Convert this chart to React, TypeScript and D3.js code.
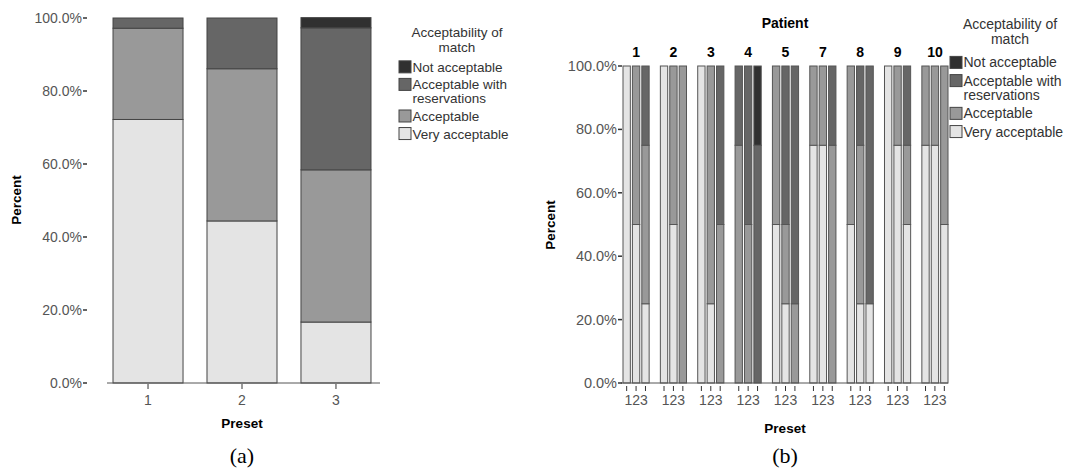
import React from "react";
import * as d3 from "d3";

// categories
const levels = ["Very acceptable", "Acceptable", "Acceptable with reservations", "Not acceptable"];
const levelColors = ["#e4e4e4", "#999999", "#666666", "#303030"];
const legendLabels = [["Not acceptable"], ["Acceptable with", "reservations"], ["Acceptable"], ["Very acceptable"]];
const presets = ["1", "2", "3"];
const patients = ["1", "2", "3", "4", "5", "7", "8", "9", "10"];
const yTicks = [0, 20, 40, 60, 80, 100];

// (a) percent per preset
const leftVery = [72.2, 44.4, 16.7];
const leftAcc = [25.0, 41.7, 41.7];
const leftRes = [2.8, 13.9, 38.9];
const leftNot = [0, 0, 2.8];

// (b) percent per patient, per preset
const rightVery = [[100, 50, 25], [100, 50, 0], [100, 25, 0], [0, 0, 0], [50, 25, 0], [75, 75, 0], [50, 25, 25], [100, 75, 50], [75, 75, 50]];
const rightAcc = [[0, 50, 50], [0, 50, 100], [0, 75, 50], [75, 50, 0], [50, 25, 25], [25, 25, 75], [50, 50, 0], [0, 25, 25], [25, 25, 50]];
const rightRes = [[0, 0, 25], [0, 0, 0], [0, 0, 50], [25, 50, 75], [0, 50, 75], [0, 0, 25], [0, 25, 75], [0, 0, 25], [0, 0, 0]];
const rightNot = [[0, 0, 0], [0, 0, 0], [0, 0, 0], [0, 0, 25], [0, 0, 0], [0, 0, 0], [0, 0, 0], [0, 0, 0], [0, 0, 0]];

const font = "Liberation Sans, Arial, sans-serif";
const fmt = (d: number) => d.toFixed(1) + "%";

function stackValues(vals: number[]) {
  let acc = 0;
  return vals.map((v) => {
    const seg = [acc, acc + v];
    acc += v;
    return seg;
  });
}

function Legend({ x, y, size, title, cx, gap }: { x: number; y: number; size: number; title: number; cx: number; gap: number }) {
  const itemGap = size * 1.3;
  const lineGap = size * 1.04;
  let top = title * 1.1 + gap;
  return (
    <g transform={`translate(${x},${y})`} fontFamily={font} fill="#333">
      <text x={cx} y={0} textAnchor="middle" fontSize={title}>Acceptability of</text>
      <text x={cx} y={title * 1.1} textAnchor="middle" fontSize={title}>match</text>
      {legendLabels.map((lines, i) => {
        const t = top;
        top += itemGap + (lines.length - 1) * lineGap;
        return (
          <g key={i}>
            <rect x={0} y={t - 1} width={12} height={12} fill={levelColors[3 - i]} stroke="#444" />
            {lines.map((l, j) => (
              <text key={j} x={13.5} y={t + 10 + j * lineGap} fontSize={size}>{l}</text>
            ))}
          </g>
        );
      })}
    </g>
  );
}

function ChartA() {
  const x = d3.scaleBand().domain(presets).range([107, 377]).paddingInner(0.255).paddingOuter(0.064);
  const y = d3.scaleLinear().domain([0, 100]).range([383, 18]);
  return (
    <g fontFamily={font}>
      {presets.map((p, i) => {
        const segs = stackValues([leftVery[i], leftAcc[i], leftRes[i], leftNot[i]]);
        return (
          <g key={p}>
            {segs.map((s, k) => s[1] - s[0] > 0 && (
              <rect key={k} x={x(p)} y={y(s[1])} width={x.bandwidth()} height={y(s[0]) - y(s[1])}
                fill={levelColors[k]} stroke="#444" strokeWidth={1} />
            ))}
          </g>
        );
      })}
      <line x1={107} x2={380} y1={383} y2={383} stroke="#555" />
      {yTicks.map((t) => (
        <g key={t}>
          <line x1={83} x2={87} y1={y(t)} y2={y(t)} stroke="#333" strokeWidth={1.5} />
          <text x={82} y={y(t) + 5} textAnchor="end" fontSize={14} fill="#555">{fmt(t)}</text>
        </g>
      ))}
      {presets.map((p) => (
        <g key={p}>
          <line x1={x(p)! + x.bandwidth() / 2} x2={x(p)! + x.bandwidth() / 2} y1={384} y2={389} stroke="#333" />
          <text x={x(p)! + x.bandwidth() / 2} y={405} textAnchor="middle" fontSize={14} fill="#555">{p}</text>
        </g>
      ))}
      <text x={242} y={428} textAnchor="middle" fontSize={13.5} fontWeight="bold">Preset</text>
      <text transform="translate(21,200) rotate(-90)" textAnchor="middle" fontSize={13.5} fontWeight="bold">Percent</text>
      <text x={242} y={463} textAnchor="middle" fontSize={22} fontFamily="Liberation Serif, Times New Roman, serif">(a)</text>
      <Legend x={399} y={37} size={13.5} title={13.5} cx={58} gap={10} />
    </g>
  );
}

function ChartB() {
  const x0 = d3.scaleBand().domain(patients).range([623, 948]).paddingInner(0.3).paddingOuter(0);
  const x1 = d3.scaleBand().domain(presets).range([0, x0.bandwidth()]).paddingInner(0.22);
  const y = d3.scaleLinear().domain([0, 100]).range([383, 66]);
  return (
    <g fontFamily={font}>
      {patients.map((pt, i) => (
        <g key={pt} transform={`translate(${x0(pt)},0)`}>
          {presets.map((p, j) => {
            const segs = stackValues([rightVery[i][j], rightAcc[i][j], rightRes[i][j], rightNot[i][j]]);
            return (
              <g key={p}>
                {segs.map((s, k) => s[1] - s[0] > 0 && (
                  <rect key={k} x={x1(p)} y={y(s[1])} width={x1.bandwidth()} height={y(s[0]) - y(s[1])}
                    fill={levelColors[k]} stroke="#555" strokeWidth={1} />
                ))}
                <line x1={x1(p)! + x1.bandwidth() / 2} x2={x1(p)! + x1.bandwidth() / 2} y1={386} y2={391} stroke="#333" />
              </g>
            );
          })}
          <text x={x0.bandwidth() / 2} y={405} textAnchor="middle" fontSize={14} fill="#555">123</text>
          <text x={x0.bandwidth() / 2} y={57} textAnchor="middle" fontSize={14} fontWeight="bold">{pt}</text>
        </g>
      ))}
      <line x1={621} x2={948} y1={383} y2={383} stroke="#555" />
      {yTicks.map((t) => (
        <g key={t}>
          <line x1={618} x2={622} y1={y(t)} y2={y(t)} stroke="#333" strokeWidth={1.5} />
          <text x={617} y={y(t) + 5} textAnchor="end" fontSize={14.5} fill="#555">{fmt(t)}</text>
        </g>
      ))}
      <text x={785} y={28} textAnchor="middle" fontSize={14} fontWeight="bold">Patient</text>
      <text x={785} y={433} textAnchor="middle" fontSize={13.5} fontWeight="bold">Preset</text>
      <text transform="translate(555,225) rotate(-90)" textAnchor="middle" fontSize={13.5} fontWeight="bold">Percent</text>
      <text x={785} y={463} textAnchor="middle" fontSize={22} fontFamily="Liberation Serif, Times New Roman, serif">(b)</text>
      <Legend x={950} y={29} size={14} title={14} cx={60} gap={13} />
    </g>
  );
}

export default function App() {
  return (
    <svg width={1067} height={472} style={{ position: "absolute", left: 0, top: 0, background: "#fff" }}>
      <ChartA />
      <ChartB />
    </svg>
  );
}
